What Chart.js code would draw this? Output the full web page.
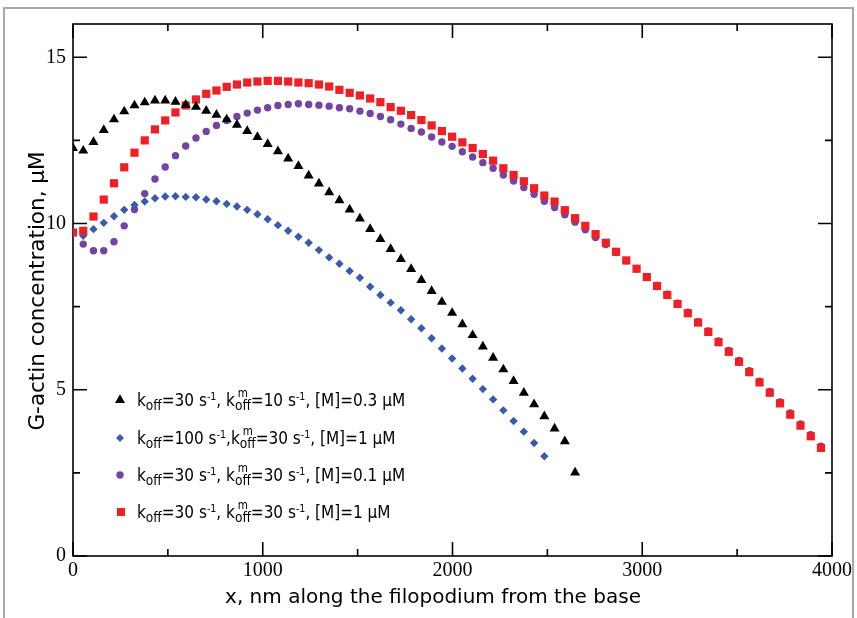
<!DOCTYPE html>
<html><head><meta charset="utf-8">
<script src="https://cdn.jsdelivr.net/npm/chart.js@4.4.1/dist/chart.umd.min.js"></script>
<style>
html,body{margin:0;padding:0;background:#fff;}
#wrap{position:relative;width:857px;height:618px;overflow:hidden;}
#frame{position:absolute;left:3px;top:7px;width:851px;height:620px;border:2px solid #a8a8a8;box-sizing:border-box;}
canvas{position:absolute;left:0;top:0;}
.row{position:absolute;left:137px;height:24px;line-height:24px;font-family:"DejaVu Sans Condensed","DejaVu Sans",sans-serif;font-stretch:semi-condensed;font-size:17px;color:#000;white-space:nowrap;}
.row sub{font-size:0.8em;vertical-align:-0.3em;line-height:0;}
.row sup{font-size:0.62em;vertical-align:0.6em;line-height:0;}
.ss{position:relative;font-size:0.8em;vertical-align:-0.3em;}
.ss .m{position:absolute;left:0.25em;top:-1.4em;font-size:0.85em;}
.mk{position:absolute;}
</style></head>
<body><div id="wrap">
<div id="frame"></div>
<canvas id="c" width="857" height="618"></canvas>
<svg class="mk" style="left:110px;top:390px" width="20" height="20"><polygon points="10,4.2 15,12.9 5,12.9" fill="#000"/></svg>
<svg class="mk" style="left:110px;top:428px" width="20" height="20"><polygon points="10,6 14,10 10,14 6,10" fill="#3a5aab"/></svg>
<svg class="mk" style="left:110px;top:465px" width="20" height="20"><circle cx="10" cy="10" r="3.7" fill="#7444a2"/></svg>
<svg class="mk" style="left:111px;top:502px" width="20" height="20"><rect x="6" y="6" width="8" height="8" fill="#ee2025"/></svg>
<div class="row" style="top:388px">k<sub>off</sub>=30 s<sup>-1</sup>, k<span class="ss"><span class="m">m</span>off</span>=10 s<sup>-1</sup>, [M]=0.3 μM</div>
<div class="row" style="top:426px">k<sub>off</sub>=100 s<sup>-1</sup>,k<span class="ss"><span class="m">m</span>off</span>=30 s<sup>-1</sup>, [M]=1 μM</div>
<div class="row" style="top:463px">k<sub>off</sub>=30 s<sup>-1</sup>, k<span class="ss"><span class="m">m</span>off</span>=30 s<sup>-1</sup>, [M]=0.1 μM</div>
<div class="row" style="top:500px">k<sub>off</sub>=30 s<sup>-1</sup>, k<span class="ss"><span class="m">m</span>off</span>=30 s<sup>-1</sup>, [M]=1 μM</div>
</div>
<script>
// ---- data (x in nm, y in µM) ----
const xNm = [0,54,108,162,216,270,324,378,432,486,540,594,648,702,756,810,864,918,972,1026,1080,1134,1188,1242,1296,1350,1404,1458,1512,1566,1620,1674,1728,1782,1836,1890,1944,1998,2052,2106,2160,2214,2268,2322,2376,2430,2484,2538,2592,2646,2700,2754,2808,2862,2916,2970,3024,3078,3132,3186,3240,3294,3348,3402,3456,3510,3564,3618,3672,3726,3780,3834,3888,3942];

const blackY = [12.27,12.19,12.45,12.81,13.13,13.37,13.55,13.64,13.70,13.70,13.66,13.57,13.51,13.39,13.27,13.13,12.97,12.78,12.60,12.39,12.17,11.95,11.73,11.44,11.20,10.94,10.70,10.42,10.15,9.83,9.53,9.23,8.93,8.63,8.30,7.97,7.64,7.31,6.97,6.64,6.30,5.96,5.61,5.26,4.91,4.56,4.20,3.83,3.45,2.51];

const blueY = [9.72,9.63,9.83,10.02,10.22,10.41,10.56,10.66,10.76,10.81,10.82,10.80,10.79,10.72,10.67,10.59,10.51,10.41,10.28,10.13,9.95,9.78,9.60,9.42,9.20,8.98,8.79,8.57,8.37,8.10,7.85,7.62,7.39,7.12,6.85,6.55,6.24,5.94,5.64,5.33,5.02,4.71,4.38,4.06,3.74,3.40,3.00];

const purpleY = [9.72,9.38,9.18,9.18,9.45,9.93,10.42,10.90,11.34,11.70,12.04,12.33,12.57,12.77,12.95,13.10,13.22,13.32,13.41,13.48,13.55,13.58,13.60,13.58,13.56,13.53,13.48,13.45,13.38,13.31,13.22,13.12,12.99,12.86,12.75,12.60,12.45,12.32,12.16,12.00,11.83,11.66,11.46,11.28,11.08,10.88,10.67,10.48,10.26,10.04,9.81,9.58,9.37,9.13,8.88,8.64,8.40,8.14,7.87,7.60,7.33,7.05,6.77,6.47,6.18,5.88,5.57,5.26,4.95,4.63,4.30,3.97,3.65,3.30];

const redY = [9.73,9.78,10.21,10.72,11.21,11.69,12.13,12.50,12.83,13.10,13.34,13.55,13.73,13.90,14.00,14.11,14.18,14.24,14.27,14.29,14.29,14.27,14.24,14.22,14.18,14.12,14.02,13.93,13.85,13.76,13.65,13.50,13.39,13.26,13.11,12.95,12.78,12.61,12.44,12.27,12.09,11.89,11.66,11.46,11.27,11.06,10.84,10.66,10.40,10.16,9.93,9.68,9.42,9.15,8.89,8.64,8.39,8.12,7.85,7.58,7.30,7.02,6.74,6.43,6.14,5.84,5.53,5.22,4.91,4.59,4.25,3.92,3.60,3.25];

const xMajorTicks = [0,1000,2000,3000,4000];
const xMinorTicks = [500,1500,2500,3500];
const yMajorTicks = [0,5,10,15];
const yMinorTicks = [2.5,7.5,12.5];

const xTitle = 'x, nm along the filopodium from the base';
const yTitle = 'G-actin concentration, μM';

function pts(ys){ return ys.map((y,i)=>({x:xNm[i], y:y})); }

const framePlugin = {
  id:'frameTicks',
  beforeDatasetsDraw(chart){
    const {ctx, chartArea:a, scales:{x, y}} = chart;
    ctx.save();
    ctx.strokeStyle = '#000';
    ctx.lineWidth = 1.6;
    ctx.strokeRect(a.left, a.top, a.right-a.left, a.bottom-a.top);
    ctx.beginPath();
    const tk = (list, len) => {
      list.forEach(v=>{
        const px = x.getPixelForValue(v);
        ctx.moveTo(px, a.bottom); ctx.lineTo(px, a.bottom-len);
        ctx.moveTo(px, a.top); ctx.lineTo(px, a.top+len);
      });
    };
    const tky = (list, len) => {
      list.forEach(v=>{
        const py = y.getPixelForValue(v);
        ctx.moveTo(a.left, py); ctx.lineTo(a.left+len, py);
        ctx.moveTo(a.right, py); ctx.lineTo(a.right-len, py);
      });
    };
    tk(xMajorTicks, 14); tk(xMinorTicks, 7);
    tky(yMajorTicks, 14); tky(yMinorTicks, 7);
    ctx.stroke();
    ctx.restore();
  },
  afterDraw(chart){
    const ctx = chart.ctx;
    ctx.save();
    ctx.fillStyle = '#000';
    ctx.textAlign = 'center';
    ctx.textBaseline = 'middle';
    ctx.font = '20px "DejaVu Sans"';
    ctx.fillText(xTitle, 433, 598);
    ctx.font = '21.5px "DejaVu Sans"';
    ctx.translate(38, 291);
    ctx.rotate(-Math.PI/2);
    ctx.fillText(yTitle, 0, 0);
    ctx.restore();
  }
};

new Chart(document.getElementById('c'), {
  type:'scatter',
  data:{ datasets:[
    {label:'black', data:pts(blackY), pointStyle:'triangle', pointRadius:5.8, backgroundColor:'#000', borderWidth:0, order:0},
    {label:'blue', data:pts(blueY), pointStyle:'rectRot', pointRadius:4.2, backgroundColor:'#3a5aab', borderWidth:0, order:2},
    {label:'purple', data:pts(purpleY), pointStyle:'circle', pointRadius:3.7, backgroundColor:'#7444a2', borderWidth:0, order:3},
    {label:'red', data:pts(redY), pointStyle:'rect', pointRadius:5.8, backgroundColor:'#ee2025', borderWidth:0, order:1}
  ]},
  options:{
    responsive:false, animation:false,
    layout:{padding:{left:0, top:24, right:25, bottom:0}},
    plugins:{legend:{display:false}, tooltip:{enabled:false}},
    elements:{point:{hoverRadius:0}},
    scales:{
      x:{type:'linear', min:0, max:4000,
         afterBuildTicks:s=>{s.ticks = xMajorTicks.map(v=>({value:v}));},
         afterFit:s=>{s.height = 62;},
         grid:{display:false, drawTicks:false}, border:{display:false},
         ticks:{padding:3, color:'#000', font:{family:'"Liberation Serif"', size:20}, maxRotation:0, autoSkip:false, callback:v=>String(v)}},
      y:{type:'linear', min:0, max:16,
         afterBuildTicks:s=>{s.ticks = yMajorTicks.map(v=>({value:v}));},
         afterFit:s=>{s.width = 73;},
         grid:{display:false, drawTicks:false}, border:{display:false},
         ticks:{padding:7, color:'#000', font:{family:'"Liberation Serif"', size:20}, callback:v=>String(v)}}
    }
  },
  plugins:[framePlugin]
});
</script>
</body></html>
